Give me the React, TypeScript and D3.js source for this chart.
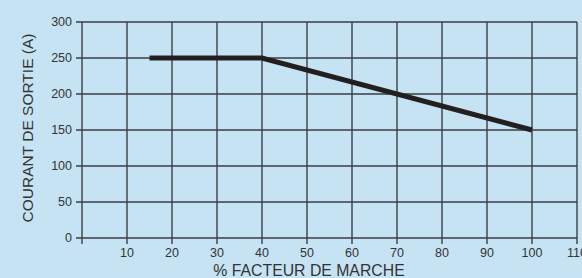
import React from "react";
import * as d3 from "d3";

const xData = [15, 40, 100];
const yData = [250, 250, 150];
const xTicks = [10, 20, 30, 40, 50, 60, 70, 80, 90, 100, 110];
const yTicks = [0, 50, 100, 150, 200, 250, 300];
const xTitle = "% FACTEUR DE MARCHE";
const yTitle = "COURANT DE SORTIE (A)";

export default function App() {
  const W = 582, H = 278;
  const x = d3.scaleLinear().domain([0, 110]).range([82, 577]);
  const y = d3.scaleLinear().domain([0, 300]).range([238, 22]);
  const pts = xData.map((d, i) => [d, yData[i]] as [number, number]);
  const line = d3.line<[number, number]>().x(d => x(d[0])).y(d => y(d[1]));
  const font = "'Liberation Sans', Arial, Helvetica, sans-serif";
  return (
    <svg width={W} height={H} style={{ position: "absolute", left: 0, top: 0 }}>
      <rect x={0} y={0} width={W} height={H} fill="#c6e3f4" />
      {[0, ...xTicks].map(t => (
        <line key={"v" + t} x1={x(t)} x2={x(t)} y1={y(300)} y2={y(0) + 6} stroke="#4d5258" strokeWidth={1.6} />
      ))}
      {yTicks.map(t => (
        <line key={"h" + t} x1={x(0) - 6} x2={x(110)} y1={y(t)} y2={y(t)} stroke="#3a3d42" strokeWidth={1.6} />
      ))}
      {yTicks.map(t => (
        <text key={"yl" + t} x={72} y={y(t)} dy="0.35em" textAnchor="end" fontFamily={font} fontSize={12.5} fill="#333">{t}</text>
      ))}
      {xTicks.map(t => (
        <text key={"xl" + t} x={x(t)} y={257} textAnchor="middle" fontFamily={font} fontSize={12.5} fill="#333">{t}</text>
      ))}
      <path d={line(pts) || ""} fill="none" stroke="#231f20" strokeWidth={5} strokeLinejoin="miter" />
      <text x={309} y={276} textAnchor="middle" fontFamily={font} fontSize={15.8} fill="#333">{xTitle}</text>
      <text transform={`translate(33,128) rotate(-90)`} textAnchor="middle" fontFamily={font} fontSize={15.5} fill="#333">{yTitle}</text>
    </svg>
  );
}
